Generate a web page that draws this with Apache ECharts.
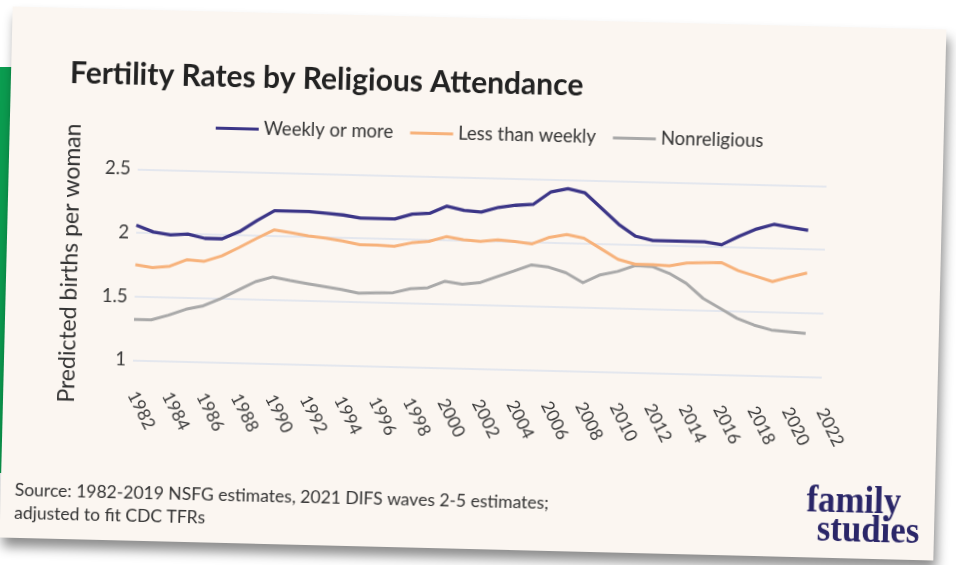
<!DOCTYPE html>
<html>
<head>
<meta charset="utf-8">
<script src="https://cdn.jsdelivr.net/npm/echarts@6/dist/echarts.min.js"></script>
<style>
  html, body { margin: 0; padding: 0; width: 956px; height: 565px; overflow: hidden; background: #ffffff; }
  #tab { position: absolute; left: 0; top: 67px; width: 60px; height: 406px; background: #0b9d50; }
  #card {
    position: absolute; left: 6.3px; top: 18.4px; width: 934px; height: 531px;
    background: #fbf6f1; transform: rotate(1.41deg);
    box-shadow: 3px 9px 12px rgba(0, 0, 0, 0.45);
  }
  #chart { width: 934px; height: 531px; }
</style>
</head>
<body>
<div id="tab"></div>
<div id="card"><div id="chart"></div></div>
<script>
// Survey years on the x axis (last category only carries a label)
const years = ['1982','1983','1984','1985','1986','1987','1988','1989','1990','1991',
               '1992','1993','1994','1995','1996','1997','1998','1999','2000','2001',
               '2002','2003','2004','2005','2006','2007','2008','2009','2010','2011',
               '2012','2013','2014','2015','2016','2017','2018','2019','2020','2021','2022'];

// Predicted births per woman, 1982-2021
const weekly = [2.06, 2.01, 1.99, 2.00, 1.97, 1.97, 2.03, 2.12, 2.20, 2.20,
                2.20, 2.19, 2.18, 2.16, 2.16, 2.16, 2.20, 2.21, 2.27, 2.24,
                2.23, 2.27, 2.29, 2.30, 2.40, 2.43, 2.40, 2.28, 2.16, 2.07,
                2.04, 2.04, 2.04, 2.04, 2.02, 2.09, 2.15, 2.19, 2.17, 2.15];
const lessThanWeekly = [1.75, 1.73, 1.745, 1.80, 1.79, 1.835, 1.905, 1.98, 2.05, 2.03,
                        2.01, 1.995, 1.975, 1.95, 1.95, 1.945, 1.975, 1.99, 2.03, 2.01,
                        2.00, 2.015, 2.005, 1.99, 2.045, 2.07, 2.045, 1.965, 1.885, 1.85,
                        1.85, 1.845, 1.87, 1.875, 1.88, 1.82, 1.78, 1.74, 1.78, 1.815];
const nonreligious = [1.32, 1.32, 1.36, 1.41, 1.44, 1.50, 1.57, 1.64, 1.68, 1.655,
                      1.635, 1.615, 1.595, 1.57, 1.575, 1.58, 1.615, 1.625, 1.68, 1.66,
                      1.675, 1.725, 1.775, 1.825, 1.81, 1.77, 1.695, 1.76, 1.79, 1.84,
                      1.835, 1.785, 1.71, 1.595, 1.52, 1.445, 1.395, 1.36, 1.35, 1.34];

const seriesNames = ['Weekly or more', 'Less than weekly', 'Nonreligious'];
const seriesColors = ['#3b3587', '#f7b27b', '#a9a9a9'];

// y-axis ticks: 1, 1.5, 2, 2.5
const yMin = 1, yMax = 2.5, yStep = 0.5;

const titleText = 'Fertility Rates by Religious Attendance';
const yAxisName = 'Predicted births per woman';
const sourceLines = ['Source: 1982-2019 NSFG estimates, 2021 DIFS waves 2-5 estimates;',
                     'adjusted to fit CDC TFRs'];
const logoLines = ['family', 'studies'];

const FONT = 'Lato, "Open Sans", sans-serif';
const LOGO_FONT = 'bold 37px "Liberation Serif", serif';

const chart = echarts.init(document.getElementById('chart'), null, { renderer: 'canvas' });

const seriesData = [weekly, lessThanWeekly, nonreligious];

chart.setOption({
  animation: false,
  backgroundColor: 'transparent',
  grid: { left: 129, right: 116, top: 159.5, bottom: 180.5 },
  legend: {
    left: 201, top: 102,
    icon: 'rect',
    itemWidth: 43, itemHeight: 3, itemGap: 17,
    textStyle: { fontFamily: FONT, fontSize: 18.5, color: '#333' },
    data: seriesNames
  },
  xAxis: {
    type: 'category',
    data: years,
    boundaryGap: false,
    axisLine: { show: false },
    axisTick: { show: false },
    splitLine: { show: false },
    axisLabel: { interval: 1, rotate: -62, margin: 32, fontFamily: FONT, fontSize: 17.5, color: '#3a3a3a' }
  },
  yAxis: {
    type: 'value',
    min: yMin, max: yMax, interval: yStep,
    name: yAxisName,
    nameLocation: 'middle',
    nameRotate: 90,
    nameGap: 54,
    nameTextStyle: { fontFamily: FONT, fontSize: 23, color: '#333' },
    axisLine: { show: false },
    axisTick: { show: false },
    axisLabel: { margin: 7, fontFamily: FONT, fontSize: 18.5, color: '#3a3a3a' },
    splitLine: { lineStyle: { color: '#e4e7ee', width: 2 } }
  },
  series: seriesNames.map((name, i) => ({
    name,
    type: 'line',
    data: seriesData[i],
    symbol: 'none',
    z: 3 - i,
    lineStyle: { width: i === 0 ? 3.3 : 3, color: seriesColors[i], join: 'round' },
    itemStyle: { color: seriesColors[i] }
  })),
  graphic: [
    {
      type: 'text', x: 59, y: 65,
      style: { text: titleText, font: 'bold 30px ' + FONT, fill: '#222',
               textAlign: 'left', textVerticalAlign: 'middle' }
    },
    {
      type: 'text', x: 14, y: 483,
      style: { text: sourceLines[0], font: '17.5px ' + FONT, fill: '#333',
               textAlign: 'left', textVerticalAlign: 'middle' }
    },
    {
      type: 'text', x: 14, y: 506,
      style: { text: sourceLines[1], font: '17.5px ' + FONT, fill: '#333',
               textAlign: 'left', textVerticalAlign: 'middle' }
    },
    {
      type: 'text', x: 853, y: 475, scaleX: 0.94,
      style: { text: logoLines[0], font: LOGO_FONT, fill: '#2a2668',
               textAlign: 'center', textVerticalAlign: 'middle' }
    },
    {
      type: 'text', x: 868, y: 504, scaleX: 0.94,
      style: { text: logoLines[1], font: LOGO_FONT, fill: '#2a2668',
               textAlign: 'center', textVerticalAlign: 'middle' }
    }
  ]
});
</script>
</body>
</html>
